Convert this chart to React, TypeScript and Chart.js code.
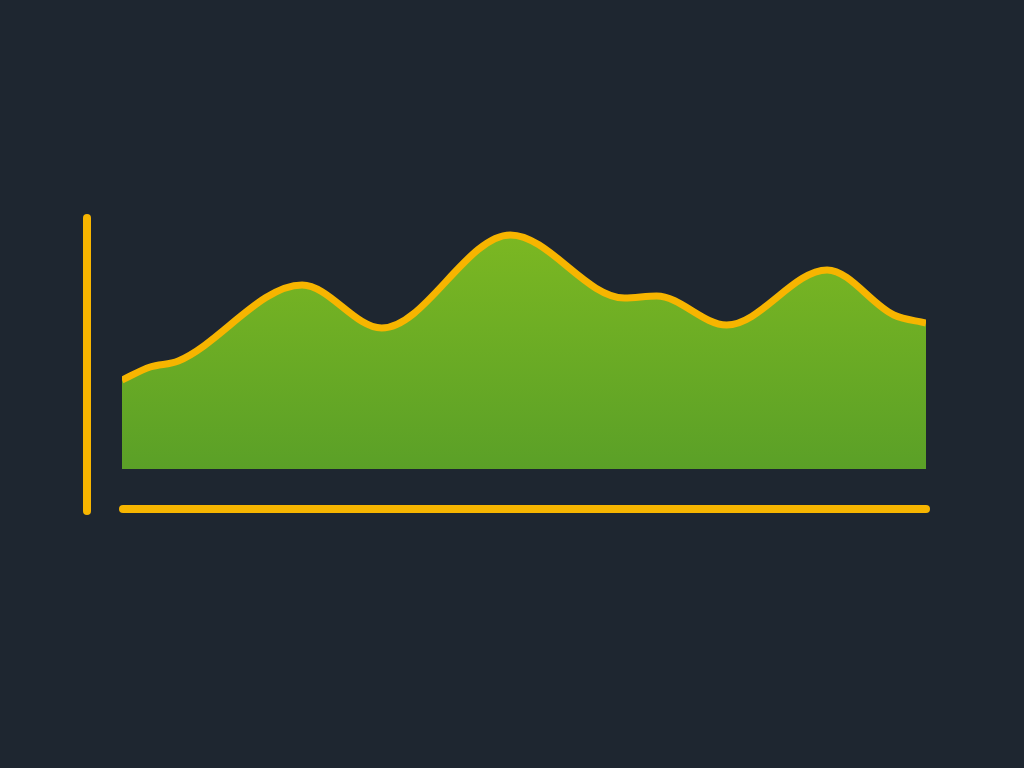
import React, { useEffect, useRef } from "react";
import { Chart, registerables } from "chart.js";

Chart.register(...registerables);

const xPositions = [0, 3.5, 7, 22.4, 32.3, 48.3, 62.5, 66.5, 75.2, 87.7, 96, 100];
const values = [22.25, 25.5, 27, 46, 35.25, 58.5, 42.75, 43.25, 36, 49.75, 38.5, 36.5];

const BG = "#1e2630";
const YELLOW = "#f7b500";

const axisLines = {
  id: "axisLines",
  afterDatasetsDraw(chart: any) {
    const { ctx, chartArea } = chart;
    ctx.save();
    ctx.strokeStyle = YELLOW;
    ctx.lineWidth = 8;
    ctx.lineCap = "round";
    ctx.beginPath();
    ctx.moveTo(chartArea.left - 35, chartArea.top - 11);
    ctx.lineTo(chartArea.left - 35, chartArea.bottom + 2);
    ctx.stroke();
    ctx.beginPath();
    ctx.moveTo(chartArea.left + 1, chartArea.bottom);
    ctx.lineTo(chartArea.right, chartArea.bottom);
    ctx.stroke();
    ctx.restore();
  },
};

export default function App() {
  const ref = useRef<HTMLCanvasElement>(null);
  useEffect(() => {
    if (!ref.current) return;
    const chart = new Chart(ref.current, {
      type: "line",
      data: {
        datasets: [
          {
            data: xPositions.map((x, i) => ({ x, y: values[i] })),
            borderColor: YELLOW,
            borderWidth: 7,
            pointRadius: 0,
            cubicInterpolationMode: "monotone",
            fill: { value: 0 },
            backgroundColor: (c: any) => {
              const area = c.chart.chartArea;
              if (!area) return "#66a824";
              const g = c.chart.ctx.createLinearGradient(0, area.top, 0, area.bottom);
              g.addColorStop(0, "#7cb822");
              g.addColorStop(1, "#559c28");
              return g;
            },
          },
        ],
      },
      options: {
        responsive: false,
        animation: false,
        layout: { padding: { left: 122, right: 98, top: 229, bottom: 259 } },
        plugins: { legend: { display: false }, tooltip: { enabled: false } },
        scales: {
          x: { type: "linear", min: 0, max: 100, display: false },
          y: { min: -10, max: 60, display: false },
        },
      },
      plugins: [axisLines],
    });
    return () => chart.destroy();
  }, []);
  return (
    <div style={{ position: "fixed", left: 0, top: 0, width: 1024, height: 768, background: BG }}>
      <canvas ref={ref} width={1024} height={768} style={{ display: "block" }} />
    </div>
  );
}
